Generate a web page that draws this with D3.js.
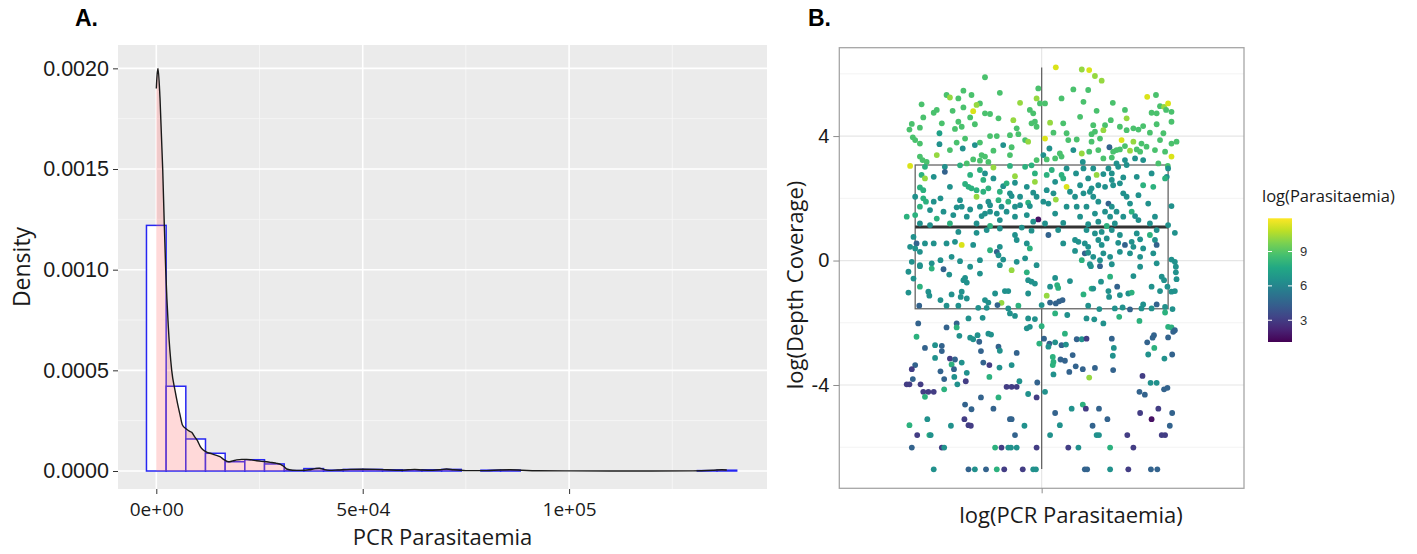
<!DOCTYPE html>
<html>
<head>
<meta charset="utf-8">
<script src="https://cdn.jsdelivr.net/npm/d3@7"></script>
<style>
  body { margin: 0; background: #fff; }
  text { font-family: "Open Sans", sans-serif; }
  .arial { font-family: "Liberation Sans", Arial, sans-serif; }
</style>
</head>
<body>
<svg id="fig" width="1417" height="554"></svg>
<script>
// ---------------- panel A data (histogram + density of PCR parasitaemia) ----------------
var binWidth = 4766;
var binCentres = [0, 4766, 9532, 14298, 19064, 23830, 28596, 33362, 38128, 42894,
                  47660, 52426, 57192, 61958, 66724, 71490, 76256, 81022, 85788, 90554,
                  95320, 100086, 104852, 109618, 114384, 119150, 123916, 128682, 133448, 138214];
var binDensity = [0.00122, 0.000421, 0.000159, 0.000088, 0.000046, 0.000056, 0.000035, 0.000002, 0.000012, 0.000004,
                  0.000008, 0.000008, 0.000006, 0.000004, 0.000006, 0.000008, 0, 0.000004, 0.000004, 0,
                  0, 0, 0, 0, 0, 0, 0, 0, 0.000002, 0.000004];

var densX = [0, 200, 410, 900, 1550, 1940, 2280, 2900, 3730, 4530, 5200, 5740, 6300, 7200, 8000, 8570,
             9300, 9930, 10700, 11380, 12200, 13000, 14200, 15430, 16500, 17440, 18500, 19470, 20700,
             21900, 23100, 24320, 25500, 26740, 28000, 29160, 30200, 30770, 31580, 33000, 35000, 37000,
             38500, 39500, 40500, 42000, 44000, 47000, 50000, 53000, 56000, 59000, 61000, 62600, 64500,
             67000, 69000, 70300, 72000, 75000, 80000, 83000, 85700, 88500, 92000, 100000, 110000,
             120000, 130000, 135000, 137000, 138200];
var densY = [0.00190, 0.00197, 0.00200, 0.00185, 0.00150, 0.00122, 0.00100, 0.00072, 0.00050, 0.00040,
             0.00033, 0.00028, 0.00023, 0.00021, 0.000198, 0.000192, 0.00017, 0.000152, 0.00012, 0.000104,
             0.000094, 0.000088, 0.000080, 0.000071, 0.000055, 0.000046, 0.000050, 0.000055, 0.000058,
             0.000058, 0.000055, 0.000051, 0.000048, 0.000046, 0.000042, 0.000038, 0.000032, 0.000025,
             0.000010, 0.000004, 0.000003, 0.000006, 0.000012, 0.000014, 0.000008, 0.000003, 0.000005,
             0.000008, 0.000009, 0.000008, 0.000006, 0.000004, 0.000006, 0.000008, 0.000005, 0.000004,
             0.000007, 0.000010, 0.000006, 0.000002, 0.000002, 0.000005, 0.000006, 0.000004, 0.000001,
             0.0000005, 0.0000003, 0.0000003, 0.0000008, 0.000004, 0.000006, 0.000005];

var yTicksA = [0, 0.0005, 0.001, 0.0015, 0.002];
var xTicksA = [0, 50000, 100000];
var xTickLabelsA = ["0e+00", "5e+04", "1e+05"];

// ---------------- panel B data (jittered points, [jitter, log depth, log parasitaemia]) ----------------
var pointsTop = [
  [-0.168,5.89,8.8],[-0.282,5.32,8.8],[-0.272,5.24,10.2],[-0.232,5.46,8.8],[-0.208,5.32,8.8],[-0.124,5.39,8.8],
  [-0.356,5.02,8.8],[-0.247,5.21,8.8],[-0.183,5.05,8.8],[-0.193,5.0,10.2],[-0.203,4.8,11.3],[-0.311,4.84,8.8],
  [-0.32,4.75,8.8],[-0.264,4.81,8.8],[-0.232,4.92,8.8],[-0.168,4.73,8.8],[-0.153,4.71,8.8],[-0.212,4.6,8.8],
  [-0.128,4.57,8.8],[-0.351,4.6,8.8],[-0.247,4.46,8.8],[-0.084,4.51,10.2],[-0.064,5.07,10.2],[-0.035,4.84,8.8],
  [-0.025,4.73,8.8],[-0.015,5.21,10.2],[-0.01,5.53,8.8],[-0.005,5.05,8.8],[-0.02,4.46,8.8],[-0.03,4.41,8.8],
  [-0.015,4.3,8.8],[-0.385,4.39,8.8],[-0.392,4.21,8.8],[-0.361,4.27,8.8],[-0.296,4.41,8.8],[-0.257,4.23,8.8],
  [-0.198,4.38,8.8],[-0.237,4.3,8.8],[-0.074,4.25,8.8],[-0.153,4.0,8.8],[-0.133,4.0,8.8],[-0.303,4.09,7.3],
  [-0.094,4.03,8.8],[-0.069,4.06,8.8],[-0.382,3.96,8.8],[-0.375,3.87,8.8],[-0.227,3.92,8.8],[-0.049,3.87,8.8],
  [-0.04,3.82,10.2],[-0.361,3.76,8.8],[-0.303,3.74,6.5],[-0.252,3.79,8.8],[-0.183,3.79,8.8],[-0.198,3.71,6.5],
  [-0.114,3.71,6.5],[-0.234,3.6,6.5],[-0.089,3.64,8.8],[-0.272,3.55,8.8],[-0.143,3.53,8.8],[-0.094,3.39,8.8],
  [-0.311,3.39,10.2],[-0.361,3.34,8.8],[-0.353,3.23,8.8],[-0.178,3.39,8.8],[-0.168,3.34,8.8],[-0.203,3.25,8.8],
  [-0.183,3.21,8.8],[-0.158,3.17,8.8],[-0.222,3.12,8.8],[-0.015,3.23,8.8],[-0.39,3.04,11.3],[-0.341,3.17,8.8],
  [0.042,6.21,11.3],[0.119,6.14,10.2],[0.141,6.12,11.3],[0.158,5.93,10.2],[0.178,5.78,10.2],[0.094,5.5,8.8],
  [0.138,5.48,8.8],[0.059,5.21,8.8],[0.124,5.1,8.8],[0.01,5.05,8.8],[0.211,5.07,8.8],[0.313,5.26,11.3],
  [0.339,5.32,8.8],[0.351,4.96,8.8],[0.363,4.94,10.2],[0.375,5.05,11.3],[0.369,4.84,8.8],[0.385,4.78,8.8],
  [0.163,4.81,8.8],[0.247,4.84,8.8],[0.326,4.75,8.8],[0.341,4.73,8.8],[0.114,4.62,8.8],[0.252,4.57,10.2],
  [0.205,4.51,8.8],[0.025,4.43,10.2],[0.064,4.41,8.8],[0.188,4.35,8.8],[0.153,4.35,8.8],[0.232,4.3,8.8],
  [0.272,4.25,8.8],[0.287,4.21,8.8],[0.301,4.32,8.8],[0.341,4.38,8.8],[0.385,4.46,8.8],[0.035,4.11,8.8],
  [0.074,4.09,8.8],[0.148,4.06,8.8],[0.158,4.14,8.8],[0.183,4.19,10.2],[0.252,4.19,8.8],[0.321,4.11,8.8],
  [0.361,4.09,8.8],[0.01,3.92,11.3],[0.104,3.89,8.8],[0.173,3.92,8.8],[0.148,3.82,8.8],[0.237,3.87,11.3],
  [0.272,3.82,10.2],[0.385,3.76,8.8],[0.4,3.82,8.8],[0.079,3.87,8.8],[0.247,3.68,8.8],[0.296,3.76,8.8],
  [0.351,3.87,8.8],[0.201,3.64,4.5],[0.023,3.6,6.5],[0.094,3.55,6.5],[0.054,3.44,8.8],[0.119,3.44,10.2],
  [0.141,3.5,8.8],[0.168,3.55,8.8],[0.222,3.55,8.8],[0.232,3.57,8.8],[0.212,3.5,8.8],[0.262,3.53,10.2],
  [0.282,3.57,8.8],[0.292,3.5,8.8],[0.311,3.66,8.8],[0.336,3.55,8.8],[0.366,3.5,8.8],[0.385,3.34,11.3],
  [0.005,3.39,6.5],[0.015,3.25,8.8],[0.04,3.28,8.8],[0.059,3.34,8.8],[0.183,3.28,8.8],[0.208,3.31,8.8],
  [0.247,3.23,6.5],[0.277,3.28,6.5],[0.301,3.23,6.5],[0.346,3.12,8.8],[0.374,3.04,8.8]
];

var pointsBox = [
  [-0.346,3.01,8.0],[-0.287,3.01,6.5],[-0.287,2.85,4.5],[-0.242,3.06,8.0],[-0.183,2.91,8.0],[-0.143,2.99,10.2],
  [-0.094,3.04,8.0],[-0.049,3.01,8.0],[-0.03,3.06,8.0],[-0.356,2.75,8.0],[-0.346,2.64,10.2],[-0.32,2.69,6.5],
  [-0.212,2.75,8.0],[-0.168,2.8,6.5],[-0.079,2.71,10.2],[-0.02,2.8,8.0],[-0.173,2.59,8.0],[-0.143,2.64,6.5],
  [-0.227,2.46,8.0],[-0.217,2.37,8.0],[-0.208,2.32,8.0],[-0.272,2.37,6.5],[-0.361,2.35,8.0],[-0.351,2.26,8.0],
  [-0.114,2.39,6.5],[-0.104,2.48,8.0],[-0.079,2.5,6.5],[-0.193,2.26,8.0],[-0.173,2.21,8.0],[-0.158,2.32,8.0],
  [-0.02,2.53,10.2],[-0.044,2.37,6.5],[-0.124,2.21,8.0],[-0.094,2.16,6.5],[-0.089,2.07,6.5],[-0.025,2.18,6.5],
  [-0.015,2.05,6.5],[-0.375,2.05,6.5],[-0.351,2.0,8.0],[-0.343,1.89,8.0],[-0.3,2.0,6.5],[-0.242,1.94,6.5],
  [-0.193,2.05,10.2],[-0.158,1.89,6.5],[-0.153,1.78,6.5],[-0.064,2.05,6.5],[-0.32,1.89,6.5],[-0.128,1.94,8.0],
  [-0.099,1.89,8.0],[-0.04,1.86,8.0],[-0.361,1.73,8.0],[-0.252,1.71,6.5],[-0.237,1.73,6.5],[-0.212,1.64,6.5],
  [-0.183,1.73,6.5],[-0.119,1.73,6.5],[-0.079,1.73,6.5],[-0.064,1.78,6.5],[-0.035,1.75,6.5],[-0.331,1.62,6.5],
  [-0.291,1.57,6.5],[-0.153,1.57,6.5],[-0.133,1.51,6.5],[-0.104,1.57,6.5],[-0.375,1.46,8.0],[-0.262,1.46,6.5],
  [-0.222,1.41,6.5],[-0.178,1.43,6.5],[-0.168,1.51,6.5],[-0.4,1.41,8.0],[-0.311,1.35,8.0],[-0.124,1.3,6.5],
  [-0.079,1.41,6.5],[-0.044,1.46,6.5],[-0.01,1.32,1.6],[-0.025,1.25,6.5],[-0.361,1.19,6.5],[-0.331,1.14,6.5],
  [-0.272,1.19,8.0],[-0.193,1.19,6.5],[-0.153,1.11,8.0],
  [-0.38,0.76,6.5],[-0.247,0.92,6.5],[-0.193,0.89,6.5],[-0.163,0.98,6.5],[-0.124,1.03,6.5],[-0.059,1.06,6.5],
  [-0.03,0.96,6.5],[-0.079,0.82,6.5],[-0.371,0.55,4.5],[-0.375,0.39,6.5],[-0.39,0.44,6.5],[-0.346,0.55,6.5],
  [-0.32,0.55,6.5],[-0.282,0.55,6.5],[-0.257,0.6,6.5],[-0.237,0.5,11.3],[-0.203,0.5,6.5],[-0.153,0.33,8.0],
  [-0.124,0.44,6.5],[-0.074,0.66,6.5],[-0.044,0.55,6.5],[-0.035,0.39,8.0],[-0.361,0.28,6.5],[-0.267,0.12,6.5],
  [-0.242,-0.02,6.5],[-0.183,0.01,6.5],[-0.133,0.28,4.5],[-0.128,0.17,6.5],[-0.114,0.03,6.5],[-0.385,-0.04,6.5],
  [-0.361,-0.15,6.5],[-0.326,-0.09,6.5],[-0.3,0.01,6.5],[-0.212,-0.2,6.5],[-0.074,-0.04,6.5],[-0.049,0.07,6.5],
  [-0.015,-0.15,6.5],
  [0.122,3.17,6.5],[0.222,3.12,6.5],[0.03,2.91,8.0],[0.074,2.96,6.5],[0.124,2.96,6.5],[0.153,2.96,6.5],
  [0.198,2.96,6.5],[0.227,3.01,6.5],[0.252,3.07,6.5],[0.375,2.96,6.5],[0.371,2.69,6.5],[0.015,2.75,8.0],
  [0.059,2.75,8.0],[0.064,2.64,8.0],[0.102,2.8,6.5],[0.138,2.64,6.5],[0.163,2.75,10.2],[0.183,2.78,6.5],
  [0.208,2.8,6.5],[0.242,2.67,6.5],[0.282,2.69,6.5],[0.326,2.8,6.5],[0.366,2.64,8.0],[0.04,2.53,6.5],
  [0.074,2.37,11.3],[0.114,2.42,6.5],[0.148,2.32,6.5],[0.143,2.21,6.5],[0.168,2.42,6.5],[0.188,2.37,6.5],
  [0.208,2.59,6.5],[0.212,2.42,6.5],[0.232,2.48,6.5],[0.301,2.42,8.0],[0.331,2.37,8.0],[0.015,2.26,6.5],
  [0.035,2.16,6.5],[0.084,2.21,6.5],[0.099,2.05,6.5],[0.124,2.16,6.5],[0.153,2.05,6.5],[0.242,2.16,6.5],
  [0.252,2.05,6.5],[0.287,2.1,6.5],[0.042,1.96,10.2],[0.005,1.89,6.5],[0.02,1.83,6.5],[0.074,1.73,6.5],
  [0.104,1.73,6.5],[0.133,1.73,6.5],[0.168,1.89,6.5],[0.198,1.83,4.5],[0.208,1.73,6.5],[0.262,1.83,6.5],
  [0.316,1.83,6.5],[0.385,1.75,6.5],[0.188,1.57,6.5],[0.203,1.41,6.5],[0.222,1.57,6.5],[0.267,1.57,8.0],
  [0.277,1.43,6.5],[0.04,1.51,6.5],[0.114,1.41,6.5],[0.158,1.51,6.5],[0.242,1.41,6.5],[0.287,1.3,6.5],
  [0.336,1.41,6.5],[0.01,1.19,6.5],[0.064,1.21,6.5],[0.168,1.25,6.5],[0.138,1.17,6.5],[0.193,1.11,8.0],
  [0.217,1.19,6.5],[0.321,1.19,6.5],[0.375,1.14,6.5],
  [0.02,0.82,4.5],[0.049,0.98,6.5],[0.133,0.98,6.5],[0.158,0.87,6.5],[0.178,0.92,6.5],[0.208,0.98,6.5],
  [0.232,0.82,6.5],[0.282,0.87,6.5],[0.321,0.82,8.0],[0.341,0.98,6.5],[0.395,0.89,6.5],[0.064,0.55,6.5],
  [0.099,0.66,6.5],[0.109,0.6,6.5],[0.128,0.55,6.5],[0.138,0.44,6.5],[0.168,0.66,6.5],[0.193,0.71,6.5],
  [0.227,0.57,6.5],[0.247,0.5,4.5],[0.267,0.6,6.5],[0.272,0.44,6.5],[0.292,0.68,6.5],[0.336,0.66,6.5],
  [0.341,0.5,4.5],[0.178,0.5,6.5],[0.099,0.31,6.5],[0.128,0.23,4.5],[0.138,0.25,6.5],[0.153,0.12,6.5],
  [0.183,0.23,6.5],[0.203,0.12,6.5],[0.232,0.28,6.5],[0.262,0.23,6.5],[0.301,0.39,6.5],[0.331,0.23,6.5],
  [0.119,0.01,8.0],[0.173,0.01,6.5],[0.292,0.12,6.5],[0.385,0.03,6.5],[0.395,-0.04,6.5],[0.143,-0.12,6.5],
  [0.208,-0.12,6.5],[0.341,-0.09,6.5],
  [-0.395,-0.36,6.5],[-0.361,-0.18,6.5],[-0.326,-0.26,8.0],[-0.291,-0.28,4.5],[-0.274,-0.45,6.5],[-0.227,-0.56,6.5],
  [-0.222,-0.71,6.5],[-0.232,-0.63,6.5],[-0.183,-0.42,6.5],[-0.124,-0.15,6.5],[-0.089,-0.31,10.2],[-0.044,-0.38,8.0],
  [-0.04,-0.63,6.5],[-0.03,-0.68,6.5],[-0.02,-0.74,6.5],[-0.38,-0.58,6.5],[-0.361,-0.84,8.0],[-0.395,-1.03,6.5],
  [-0.336,-1.0,6.5],[-0.333,-1.13,6.5],[-0.267,-1.09,6.5],[-0.237,-1.0,6.5],[-0.24,-1.17,6.5],[-0.138,-1.06,6.5],
  [-0.109,-0.98,6.5],[-0.099,-0.98,6.5],[-0.04,-1.06,6.5],[-0.3,-1.27,6.5],[-0.222,-1.22,6.5],[-0.168,-1.27,6.5],
  [-0.158,-1.35,6.5],[-0.119,-1.36,10.2],[-0.363,-1.45,4.5],[-0.282,-1.45,6.5],[-0.247,-1.45,6.5],[-0.188,-1.52,6.5],
  [-0.163,-1.52,6.5],[-0.131,-1.43,4.5],[-0.069,-1.45,8.0],[-0.099,-1.54,6.5],
  [0.04,-0.56,6.5],[0.084,-0.66,6.5],[0.146,-0.18,6.5],[0.173,-0.18,4.5],[0.203,-0.52,8.0],[0.272,-0.5,6.5],
  [0.292,-0.2,6.5],[0.356,-0.52,6.5],[0.363,-0.63,6.5],[0.398,-0.2,6.5],[0.398,-0.38,6.5],[0.4,-0.6,6.5],
  [0.025,-0.84,6.5],[0.046,-0.79,8.0],[0.049,-0.88,8.0],[0.015,-1.13,10.2],[0.124,-1.09,8.0],[0.148,-0.9,8.0],
  [0.153,-0.9,6.5],[0.176,-0.68,6.5],[0.198,-0.98,6.5],[0.2,-1.17,6.5],[0.224,-0.84,4.5],[0.232,-1.11,6.5],
  [0.257,-1.06,6.5],[0.267,-1.03,8.0],[0.326,-0.84,6.5],[0.351,-0.98,6.5],[0.373,-0.84,6.5],[0.385,-1.0,6.5],
  [0.395,-0.98,6.5],[0.0,-1.43,6.5],[0.025,-1.35,4.5],[0.042,-1.38,4.5],[0.052,-1.31,4.5],[0.062,-1.27,4.5],
  [0.138,-1.45,6.5],[0.171,-1.56,6.5],[0.217,-1.54,6.5],[0.24,-1.51,6.5],[0.262,-1.57,4.5],[0.301,-1.41,6.5],
  [0.296,-1.54,6.5],[0.326,-1.54,6.5],[0.341,-1.41,4.5],[0.366,-1.49,6.5],[0.388,-1.56,6.5]
];

var pointsTail = [
  [-0.094,-1.7,6.5],[-0.079,-1.78,6.5],[-0.217,-1.86,6.5],[-0.175,-1.84,6.5],[-0.04,-1.86,6.5],[-0.02,-1.88,6.5],
  [-0.366,-2.02,4.5],[-0.252,-2.02,4.5],[-0.252,-2.15,8.0],[-0.282,-2.15,4.5],[-0.044,-2.18,6.5],[-0.035,-2.13,6.5],
  [-0.371,-2.45,8.0],[-0.244,-2.42,6.5],[-0.212,-2.48,6.5],[-0.203,-2.53,6.5],[-0.19,-2.4,6.5],[-0.158,-2.35,6.5],
  [-0.15,-2.38,6.5],[-0.185,-2.61,4.5],[-0.346,-2.81,4.5],[-0.316,-2.72,6.5],[-0.296,-2.74,4.5],[-0.296,-2.91,4.5],
  [-0.128,-2.77,4.5],[-0.124,-2.9,6.5],[-0.074,-2.97,4.5],[-0.007,-2.67,8.0],[-0.18,-2.91,4.5],[-0.316,-3.13,6.5],
  [-0.272,-3.15,3.0],[-0.257,-3.18,4.5],[-0.237,-3.28,6.5],[-0.173,-3.28,4.5],[-0.155,-3.36,3.0],[-0.089,-3.36,6.5],
  [-0.125,-3.44,6.5],[-0.375,-3.36,4.5],[-0.267,-3.34,8.0],[-0.385,-3.49,3.0],[-0.3,-3.56,4.5],[-0.26,-3.49,4.5],
  [-0.222,-3.61,6.5],[-0.155,-3.74,8.0],[-0.259,-3.74,6.5],[-0.289,-3.81,4.5],[-0.382,-3.81,4.5],[-0.225,-3.88,3.0],
  [-0.066,-3.88,6.5],[-0.4,-3.98,3.0],[-0.392,-3.98,3.0],[-0.359,-3.98,3.0],[-0.25,-3.98,6.5],[-0.104,-4.06,3.0],
  [-0.089,-4.06,3.0],[-0.074,-4.06,3.0],[-0.013,-3.92,4.5],[-0.351,-4.22,3.0],[-0.336,-4.22,3.0],[-0.32,-4.22,3.0],
  [-0.289,-4.14,8.0],[-0.346,-4.38,8.0],[-0.18,-4.4,4.5],[-0.128,-4.4,8.0],[-0.04,-4.29,6.5],[-0.015,-4.4,3.0],
  [-0.227,-4.63,4.5],[-0.208,-4.78,4.5],[-0.143,-4.76,4.5],[-0.339,-5.1,6.5],[-0.229,-5.1,3.0],[-0.094,-5.1,4.5],
  [-0.089,-5.1,4.5],[-0.217,-5.29,3.0],[-0.21,-5.31,3.0],[-0.392,-5.29,8.0],[-0.269,-5.31,6.5],[-0.051,-5.31,6.5],
  [-0.369,-5.61,3.0],[-0.333,-5.61,8.0],[-0.329,-5.61,6.5],[-0.079,-5.61,4.5],[-0.385,-6.01,4.5],[-0.296,-6.01,3.0],
  [-0.289,-6.01,6.5],[-0.138,-6.01,8.0],[-0.119,-6.01,3.0],[-0.099,-6.01,6.5],[-0.091,-6.01,6.5],[-0.074,-6.01,6.5],
  [-0.015,-6.01,3.0],[-0.32,-6.71,6.5],[-0.217,-6.71,4.5],[-0.198,-6.71,6.5],[-0.165,-6.71,4.5],[-0.133,-6.71,8.0],
  [-0.111,-6.71,3.0],[-0.056,-6.71,3.0],[-0.025,-6.71,6.5],[-0.017,-6.71,6.5],
  [0.04,-1.7,8.0],[0.076,-1.75,6.5],[0.133,-1.86,6.5],[0.156,-1.89,6.5],[0.183,-2.02,6.5],[0.23,-1.81,8.0],
  [0.29,-1.94,8.0],[0.366,-1.67,8.0],[0.0,-2.11,8.0],[0.375,-2.13,8.0],[0.385,-2.15,8.0],[0.395,-2.24,4.5],
  [0.39,-2.29,4.5],[0.069,-2.35,8.0],[0.007,-2.51,4.5],[0.104,-2.53,4.5],[0.119,-2.53,6.5],[0.133,-2.51,3.0],
  [0.208,-2.51,4.5],[0.333,-2.4,4.5],[0.329,-2.48,4.5],[0.375,-2.47,4.5],[0.023,-2.67,4.5],[0.04,-2.63,6.5],
  [0.059,-2.72,4.5],[0.072,-2.7,6.5],[0.313,-2.63,4.5],[0.214,-2.81,6.5],[0.334,-2.81,8.0],[0.02,-2.77,6.5],
  [0.033,-3.1,8.0],[0.092,-3.04,4.5],[0.211,-3.06,6.5],[0.316,-3.02,6.5],[0.364,-3.15,6.5],[0.387,-3.02,4.5],
  [0.056,-3.18,4.5],[0.069,-3.22,4.5],[0.035,-3.26,8.0],[0.033,-3.36,8.0],[0.101,-3.4,4.5],[0.122,-3.49,4.5],
  [0.158,-3.45,4.5],[0.082,-3.58,4.5],[0.212,-3.52,4.5],[0.035,-3.66,6.5],[0.141,-3.76,10.2],[0.299,-3.71,3.0],
  [0.323,-3.93,6.5],[0.341,-3.93,6.5],[0.363,-4.14,4.5],[0.373,-4.09,4.5],[0.29,-4.22,4.5],[0.306,-4.31,4.5],
  [0.01,-4.22,6.5],[0.122,-4.63,8.0],[0.089,-4.76,6.5],[0.131,-4.76,3.0],[0.17,-4.76,4.5],[0.346,-4.76,3.0],
  [0.04,-4.9,4.5],[0.292,-4.9,3.0],[0.387,-4.9,4.5],[0.195,-5.1,4.5],[0.326,-5.1,1.6],[0.054,-5.29,6.5],
  [0.151,-5.31,4.5],[0.38,-5.31,4.5],[0.025,-5.61,6.5],[0.163,-5.61,6.5],[0.17,-5.61,6.5],[0.254,-5.61,3.0],
  [0.356,-5.61,3.0],[0.366,-5.61,3.0],[0.079,-6.01,3.0],[0.109,-6.01,6.5],[0.203,-6.01,8.0],[0.272,-6.01,3.0],
  [0.128,-6.71,4.5],[0.135,-6.71,4.5],[0.203,-6.71,6.5],[0.257,-6.71,3.0],[0.324,-6.71,4.5],[0.343,-6.71,4.5]
];

// boxplot summary: lower whisker, Q1, median, Q3, upper whisker
var boxStats = [-6.7, -1.55, 1.08, 3.07, 6.2];
var yTicksB = [-4, 0, 4];
var legendTicks = [3, 6, 9];
var colourDomain = [1.1, 11.9];

var svg = d3.select("#fig");

// ================= PANEL A =================
var panelA = {left: 118, right: 767, top: 45, bottom: 489};
var xA = d3.scaleLinear().domain([-9280, 147940]).range([panelA.left, panelA.right]);
var yA = d3.scaleLinear().domain([-0.0000894, 0.002116]).range([panelA.bottom, panelA.top]);

var gA = svg.append("g");

gA.append("rect")
    .attr("x", panelA.left).attr("y", panelA.top)
    .attr("width", panelA.right - panelA.left)
    .attr("height", panelA.bottom - panelA.top)
    .attr("fill", "#ebebeb");

// minor grid
var yMinorA = [0.00025, 0.00075, 0.00125, 0.00175];
var xMinorA = [25000, 75000, 125000];
gA.selectAll(".yminA").data(yMinorA).enter().append("line")
    .attr("x1", panelA.left).attr("x2", panelA.right)
    .attr("y1", function(d) { return yA(d); }).attr("y2", function(d) { return yA(d); })
    .attr("stroke", "#f7f7f7").attr("stroke-width", 0.8);
gA.selectAll(".xminA").data(xMinorA).enter().append("line")
    .attr("y1", panelA.top).attr("y2", panelA.bottom)
    .attr("x1", function(d) { return xA(d); }).attr("x2", function(d) { return xA(d); })
    .attr("stroke", "#f7f7f7").attr("stroke-width", 0.8);
// major grid
gA.selectAll(".ymajA").data(yTicksA).enter().append("line")
    .attr("x1", panelA.left).attr("x2", panelA.right)
    .attr("y1", function(d) { return yA(d); }).attr("y2", function(d) { return yA(d); })
    .attr("stroke", "#ffffff").attr("stroke-width", 1.6);
gA.selectAll(".xmajA").data(xTicksA).enter().append("line")
    .attr("y1", panelA.top).attr("y2", panelA.bottom)
    .attr("x1", function(d) { return xA(d); }).attr("x2", function(d) { return xA(d); })
    .attr("stroke", "#ffffff").attr("stroke-width", 1.6);

// histogram bars
gA.selectAll(".bar").data(binCentres).enter().append("rect")
    .attr("x", function(d) { return xA(d - binWidth / 2); })
    .attr("width", function(d) { return xA(d + binWidth / 2) - xA(d - binWidth / 2); })
    .attr("y", function(d, i) { return yA(binDensity[i]); })
    .attr("height", function(d, i) { return yA(0) - yA(binDensity[i]); })
    .attr("fill", "#ffffff")
    .attr("stroke", "#2626f2")
    .attr("stroke-width", 1.5);

// density
var dens = densX.map(function(d, i) { return {x: d, y: densY[i]}; });
var densArea = d3.area()
    .x(function(d) { return xA(d.x); })
    .y0(yA(0))
    .y1(function(d) { return yA(d.y); })
    .curve(d3.curveMonotoneX);
var densLine = d3.line()
    .x(function(d) { return xA(d.x); })
    .y(function(d) { return yA(d.y); })
    .curve(d3.curveMonotoneX);

gA.append("path")
    .attr("d", densArea(dens))
    .attr("fill", "#ff6666")
    .attr("fill-opacity", 0.25);
gA.append("path")
    .attr("d", densLine(dens))
    .attr("fill", "none")
    .attr("stroke", "#1a1a1a")
    .attr("stroke-width", 1.4);

// axes
var yAxisA = gA.append("g")
    .attr("transform", "translate(" + panelA.left + ",0)")
    .call(d3.axisLeft(yA).tickValues(yTicksA).tickFormat(d3.format(".4f")).tickSize(5).tickPadding(4));
yAxisA.select(".domain").remove();
yAxisA.selectAll("line").attr("stroke", "#333");
yAxisA.selectAll("text").attr("class", "arial").style("font-size", "21.5px").attr("fill", "#1a1a1a");

var xAxisA = gA.append("g")
    .attr("transform", "translate(0," + panelA.bottom + ")")
    .call(d3.axisBottom(xA).tickValues(xTicksA)
        .tickFormat(function(d, i) { return xTickLabelsA[i]; }).tickSize(5).tickPadding(9));
xAxisA.select(".domain").remove();
xAxisA.selectAll("line").attr("stroke", "#333");
xAxisA.selectAll("text").style("font-size", "19px").attr("fill", "#1a1a1a");

gA.append("text")
    .attr("x", (panelA.left + panelA.right) / 2)
    .attr("y", 545)
    .attr("text-anchor", "middle")
    .style("font-size", "22px")
    .attr("fill", "#1a1a1a")
    .text("PCR Parasitaemia");

gA.append("text")
    .attr("transform", "translate(30,267) rotate(-90)")
    .attr("text-anchor", "middle")
    .style("font-size", "23px")
    .attr("fill", "#1a1a1a")
    .text("Density");

svg.append("text")
    .attr("class", "arial")
    .attr("x", 75).attr("y", 26)
    .style("font-size", "23px").style("font-weight", "bold")
    .text("A.");

// ================= PANEL B =================
var panelB = {left: 839.3, right: 1244, top: 47.7, bottom: 488.3};
var xB = d3.scaleLinear().domain([0.4, 1.6]).range([panelB.left, panelB.right]);
var yB = d3.scaleLinear().domain([-7.32, 6.84]).range([panelB.bottom, panelB.top]);
var colour = d3.scaleSequential(d3.interpolateViridis).domain(colourDomain);

var gB = svg.append("g");

gB.append("rect")
    .attr("x", panelB.left).attr("y", panelB.top)
    .attr("width", panelB.right - panelB.left)
    .attr("height", panelB.bottom - panelB.top)
    .attr("fill", "#ffffff");

var yMinorB = [-6, -2, 2, 6];
gB.selectAll(".yminB").data(yMinorB).enter().append("line")
    .attr("x1", panelB.left).attr("x2", panelB.right)
    .attr("y1", function(d) { return yB(d); }).attr("y2", function(d) { return yB(d); })
    .attr("stroke", "#f3f3f3").attr("stroke-width", 1);
gB.selectAll(".ymajB").data(yTicksB).enter().append("line")
    .attr("x1", panelB.left).attr("x2", panelB.right)
    .attr("y1", function(d) { return yB(d); }).attr("y2", function(d) { return yB(d); })
    .attr("stroke", "#e6e6e6").attr("stroke-width", 1.2);
gB.append("line")
    .attr("x1", xB(1)).attr("x2", xB(1))
    .attr("y1", panelB.top).attr("y2", panelB.bottom)
    .attr("stroke", "#e6e6e6").attr("stroke-width", 1.2);

// boxplot
var boxHalf = 0.375;
gB.append("line")
    .attr("x1", xB(1)).attr("x2", xB(1))
    .attr("y1", yB(boxStats[3])).attr("y2", yB(boxStats[4]))
    .attr("stroke", "#666").attr("stroke-width", 1.3);
gB.append("line")
    .attr("x1", xB(1)).attr("x2", xB(1))
    .attr("y1", yB(boxStats[1])).attr("y2", yB(boxStats[0]))
    .attr("stroke", "#666").attr("stroke-width", 1.3);
gB.append("rect")
    .attr("x", xB(1 - boxHalf))
    .attr("width", xB(1 + boxHalf) - xB(1 - boxHalf))
    .attr("y", yB(boxStats[3]))
    .attr("height", yB(boxStats[1]) - yB(boxStats[3]))
    .attr("fill", "none")
    .attr("stroke", "#666").attr("stroke-width", 1.3);
gB.append("line")
    .attr("x1", xB(1 - boxHalf)).attr("x2", xB(1 + boxHalf))
    .attr("y1", yB(boxStats[2])).attr("y2", yB(boxStats[2]))
    .attr("stroke", "#333").attr("stroke-width", 3);

// jittered points
var allPoints = pointsTop.concat(pointsBox, pointsTail);
gB.selectAll(".pt").data(allPoints).enter().append("circle")
    .attr("cx", function(d) { return xB(1 + d[0]); })
    .attr("cy", function(d) { return yB(d[1]); })
    .attr("r", 2.9)
    .attr("fill", function(d) { return colour(d[2]); });

// border
gB.append("rect")
    .attr("x", panelB.left).attr("y", panelB.top)
    .attr("width", panelB.right - panelB.left)
    .attr("height", panelB.bottom - panelB.top)
    .attr("fill", "none")
    .attr("stroke", "#a6a6a6").attr("stroke-width", 1.3);

var yAxisB = gB.append("g")
    .attr("transform", "translate(" + panelB.left + ",0)")
    .call(d3.axisLeft(yB).tickValues(yTicksB).tickFormat(function(d) { return String(d); }).tickSize(6).tickPadding(4));
yAxisB.select(".domain").remove();
yAxisB.selectAll("line").attr("stroke", "#8c8c8c");
yAxisB.selectAll("text").attr("class", "arial").style("font-size", "20px").attr("fill", "#1a1a1a");

var xAxisB = gB.append("g")
    .attr("transform", "translate(0," + panelB.bottom + ")")
    .call(d3.axisBottom(xB).tickValues([1]).tickFormat("").tickSize(5));
xAxisB.select(".domain").remove();
xAxisB.selectAll("line").attr("stroke", "#8c8c8c");

gB.append("text")
    .attr("x", 1071).attr("y", 523)
    .attr("text-anchor", "middle")
    .style("font-size", "22px")
    .attr("fill", "#1a1a1a")
    .text("log(PCR Parasitaemia)");

gB.append("text")
    .attr("transform", "translate(803,285) rotate(-90)")
    .attr("text-anchor", "middle")
    .style("font-size", "22px")
    .attr("fill", "#1a1a1a")
    .text("log(Depth Coverage)");

svg.append("text")
    .attr("class", "arial")
    .attr("x", 808).attr("y", 26)
    .style("font-size", "23px").style("font-weight", "bold")
    .text("B.");

// colour legend
var leg = {x: 1268, w: 24, top: 218.3, bottom: 342};
var yLeg = d3.scaleLinear().domain(colourDomain).range([leg.bottom, leg.top]);
var grad = svg.append("defs").append("linearGradient")
    .attr("id", "vgrad")
    .attr("x1", 0).attr("y1", 1).attr("x2", 0).attr("y2", 0);
d3.range(0, 1.0001, 0.1).forEach(function(t) {
    grad.append("stop").attr("offset", t).attr("stop-color", d3.interpolateViridis(t));
});
svg.append("rect")
    .attr("x", leg.x).attr("y", leg.top)
    .attr("width", leg.w).attr("height", leg.bottom - leg.top)
    .attr("fill", "url(#vgrad)");
svg.selectAll(".legTickL").data(legendTicks).enter().append("line")
    .attr("x1", leg.x).attr("x2", leg.x + 4)
    .attr("y1", function(d) { return yLeg(d); }).attr("y2", function(d) { return yLeg(d); })
    .attr("stroke", "#fff").attr("stroke-width", 1);
svg.selectAll(".legTickR").data(legendTicks).enter().append("line")
    .attr("x1", leg.x + leg.w - 4).attr("x2", leg.x + leg.w)
    .attr("y1", function(d) { return yLeg(d); }).attr("y2", function(d) { return yLeg(d); })
    .attr("stroke", "#fff").attr("stroke-width", 1);
svg.selectAll(".legLab").data(legendTicks).enter().append("text")
    .attr("class", "arial")
    .attr("x", leg.x + leg.w + 8)
    .attr("y", function(d) { return yLeg(d) + 4.5; })
    .style("font-size", "13px")
    .attr("fill", "#333")
    .text(function(d) { return d; });
svg.append("text")
    .attr("x", 1262).attr("y", 202)
    .style("font-size", "16.5px")
    .attr("fill", "#1a1a1a")
    .text("log(Parasitaemia)");
</script>
</body>
</html>
